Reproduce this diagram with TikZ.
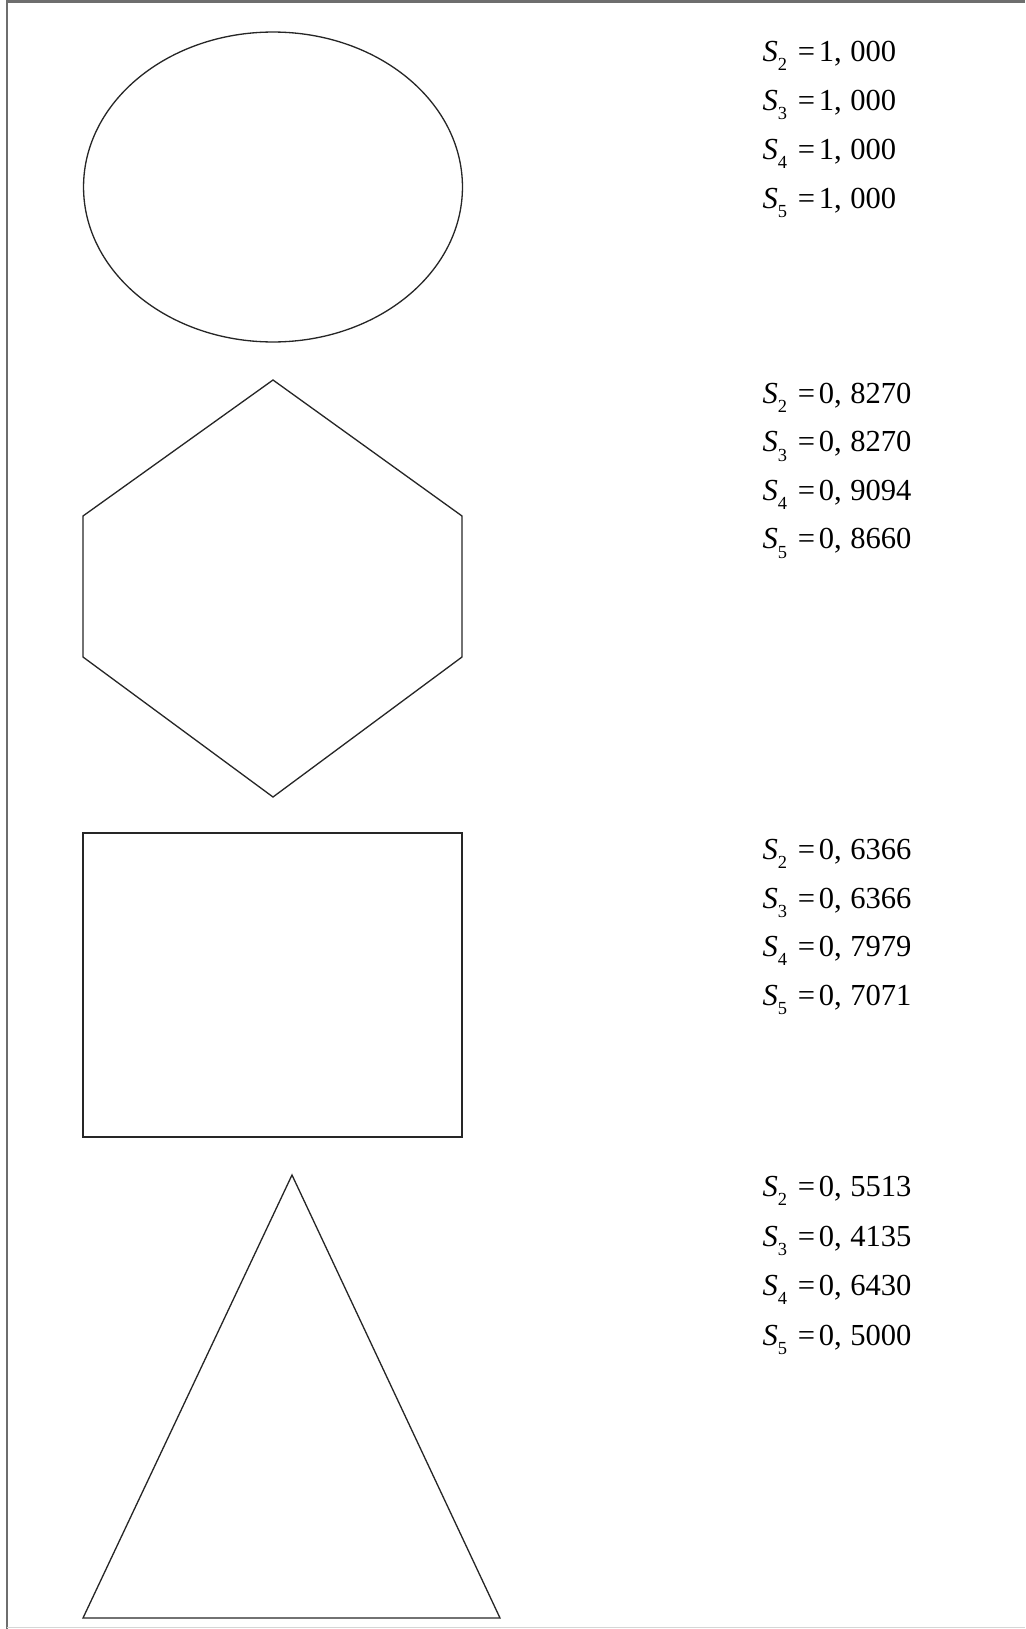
\documentclass[tikz,border=0pt]{standalone}
\usepackage{fontspec}
\setmainfont{Liberation Serif}
\usetikzlibrary{positioning}
\definecolor{sf-frame}{HTML}{6E6E6E}
\definecolor{sf-frame-light}{HTML}{D6D6D6}
\definecolor{sf-line}{HTML}{262626}
\newcommand{\sval}[2]{\textit{S}\raisebox{-0.3em}{\fontsize{10.5}{10.5}\selectfont #1}\hspace{0.35em}=\hspace{0.12em}#2}

\begin{document}
\begin{tikzpicture}[x=0.02cm, y=-0.02cm, line width=0.75pt,
    svals/.style={anchor=west, inner sep=0pt, font=\fontsize{17.4}{20}\selectfont}]
    \useasboundingbox (0,0) rectangle (1025,1629);

    % --- Frame ---
    \draw[sf-frame, line width=1.7pt] (6,1.5) -- (1025,1.5);
    \draw[sf-frame, line width=1.2pt] (7,0) -- (7,1629);
    \draw[sf-frame-light, line width=0.9pt] (7,1627.5) -- (1025,1627.5);

    % --- Ellipse ---
    \draw[sf-line] (273,187) ellipse [x radius=3.79cm, y radius=3.1cm];
    \foreach \v [count=\i from 2] in {{1,\hspace{0.28em}000},{1,\hspace{0.28em}000},{1,\hspace{0.28em}000},{1,\hspace{0.28em}000}} {
        \node[svals] (ell-s\i) at (762, {56+49*(\i-2)}) {\sval{\i}{\v}};
    }

    % --- Hexagon ---
    \draw[sf-line] (273,380) -- (462,516) -- (462,657) -- (273,797)
        -- (83,657) -- (83,516) -- cycle;
    \foreach \v [count=\i from 2] in {{0,\hspace{0.28em}8270},{0,\hspace{0.28em}8270},{0,\hspace{0.28em}9094},{0,\hspace{0.28em}8660}} {
        \node[svals] (hex-s\i) at (762, {398+48.5*(\i-2)}) {\sval{\i}{\v}};
    }

    % --- Square ---
    \draw[sf-line] (83,833) rectangle (462,1137);
    \foreach \v [count=\i from 2] in {{0,\hspace{0.28em}6366},{0,\hspace{0.28em}6366},{0,\hspace{0.28em}7979},{0,\hspace{0.28em}7071}} {
        \node[svals] (sq-s\i) at (762, {854+48.5*(\i-2)}) {\sval{\i}{\v}};
    }

    % --- Triangle ---
    \draw[sf-line] (292,1175) -- (500,1618) -- (83,1618) -- cycle;
    \foreach \v [count=\i from 2] in {{0,\hspace{0.28em}5513},{0,\hspace{0.28em}4135},{0,\hspace{0.28em}6430},{0,\hspace{0.28em}5000}} {
        \node[svals] (tri-s\i) at (762, {1191+49.5*(\i-2)}) {\sval{\i}{\v}};
    }
\end{tikzpicture}
\end{document}
